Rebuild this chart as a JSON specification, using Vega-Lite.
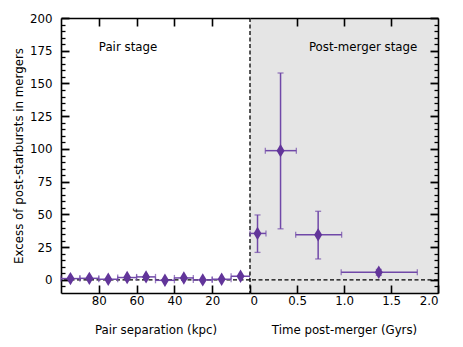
{
  "$schema": "https://vega.github.io/schema/vega-lite/v6.json",
  "padding": {"left": 13, "top": 13, "right": 10, "bottom": 5},
  "background": "white",
  "spacing": 0,
  "bounds": "flush",
  "config": {
    "view": {"stroke": null},
    "concat": {"spacing": 0},
    "font": "DejaVu Sans",
    "axis": {
      "grid": false,
      "domainColor": "black",
      "domainWidth": 1.6,
      "tickColor": "black",
      "tickWidth": 1.6,
      "labelFont": "DejaVu Sans",
      "labelFontSize": 11.8,
      "labelColor": "black",
      "titleFont": "DejaVu Sans",
      "titleFontSize": 11.8,
      "titleFontWeight": "normal",
      "titleColor": "black"
    }
  },
  "datasets": {
    "pairs": [
      {"sep": 95, "sepLo": 90, "sepHi": 100, "excess": 1.0},
      {"sep": 85, "sepLo": 80, "sepHi": 90, "excess": 1.2},
      {"sep": 75, "sepLo": 70, "sepHi": 80, "excess": 0.5},
      {"sep": 65, "sepLo": 60, "sepHi": 70, "excess": 1.8},
      {"sep": 55, "sepLo": 50, "sepHi": 60, "excess": 2.3},
      {"sep": 45, "sepLo": 40, "sepHi": 50, "excess": -0.3},
      {"sep": 35, "sepLo": 30, "sepHi": 40, "excess": 1.5},
      {"sep": 25, "sepLo": 20, "sepHi": 30, "excess": 0.0},
      {"sep": 15, "sepLo": 10, "sepHi": 20, "excess": 0.5},
      {"sep": 5, "sepLo": 0, "sepHi": 10, "excess": 2.8}
    ],
    "post": [
      {"t": 0.08, "tLo": 0.0, "tHi": 0.17, "excess": 35.5, "eLo": 21, "eHi": 49.6},
      {"t": 0.325, "tLo": 0.163, "tHi": 0.493, "excess": 98.7, "eLo": 39, "eHi": 158},
      {"t": 0.725, "tLo": 0.486, "tHi": 0.975, "excess": 34.4, "eLo": 16, "eHi": 52.4},
      {"t": 1.37, "tLo": 0.97, "tHi": 1.78, "excess": 5.8, "eLo": 3.5, "eHi": 8}
    ]
  },
  "hconcat": [
    {
      "width": 189,
      "height": 275,
      "resolve": {"axis": {"x": "independent", "y": "independent"}},
      "layer": [
        {
          "data": {"values": [{}]},
          "mark": {"type": "rule", "strokeDash": [4, 2.5], "color": "black", "strokeWidth": 1.3},
          "encoding": {
            "y": {
              "datum": 0, "type": "quantitative",
              "scale": {"domain": [-10, 200], "nice": false, "zero": false},
              "axis": {
                "orient": "left",
                "values": [0, 25, 50, 75, 100, 125, 150, 175, 200],
                "tickSize": -8,
                "tickWidth": 1.8,
                "labelPadding": 17,
                "title": "Excess of post-starbursts in mergers",
                "titleColor": "black",
                "titlePadding": 5
              }
            }
          }
        },
        {
          "data": {"name": "pairs"},
          "mark": {"type": "errorbar", "color": "#7048a8", "thickness": 1.5, "ticks": {"size": 6, "thickness": 1.3}},
          "encoding": {
            "x": {
              "field": "sepLo", "type": "quantitative",
              "scale": {"domain": [0, 100], "reverse": true, "nice": false, "zero": false},
              "axis": {
                "orient": "bottom",
                "values": [20, 40, 60, 80],
                "tickSize": -8,
                "labelPadding": 10,
                "title": "Pair separation (kpc)",
                "titleColor": "black",
                "titlePadding": 18
              }
            },
            "x2": {"field": "sepHi"},
            "y": {"field": "excess", "type": "quantitative", "axis": null}
          }
        },
        {
          "data": {"name": "pairs"},
          "mark": {"type": "point", "shape": "M0,-1L0.6,0L0,1L-0.6,0Z", "filled": true, "size": 180, "opacity": 1, "color": "#62359a"},
          "encoding": {
            "x": {"field": "sep", "type": "quantitative", "axis": null},
            "y": {
              "field": "excess", "type": "quantitative",
              "axis": {
                "orient": "left",
                "values": [-5, 5, 10, 15, 20, 30, 35, 40, 45, 55, 60, 65, 70, 80, 85, 90, 95, 105, 110, 115, 120, 130, 135, 140, 145, 155, 160, 165, 170, 180, 185, 190, 195],
                "tickSize": -4,
                "tickWidth": 1.3,
                "labels": false,
                "domain": false,
                "title": null
              }
            }
          }
        },
        {
          "data": {"values": [{}]},
          "mark": {"type": "text", "align": "left", "baseline": "middle", "fontSize": 11.8, "font": "DejaVu Sans", "color": "black"},
          "encoding": {
            "x": {
              "datum": 80, "type": "quantitative",
              "axis": {"orient": "top", "values": [20, 40, 60, 80], "tickSize": -8, "labels": false, "title": null}
            },
            "y": {"datum": 178, "type": "quantitative", "axis": null},
            "text": {"value": "Pair stage"}
          }
        }
      ]
    },
    {
      "width": 188,
      "height": 275,
      "view": {"fill": "#e5e5e5", "stroke": null},
      "resolve": {"axis": {"x": "independent", "y": "independent"}},
      "layer": [
        {
          "data": {"values": [{}]},
          "mark": {"type": "rule", "strokeDash": [4, 2.5], "color": "black", "strokeWidth": 1.3},
          "encoding": {
            "y": {
              "datum": 0, "type": "quantitative",
              "scale": {"domain": [-10, 200], "nice": false, "zero": false},
              "axis": {
                "orient": "right",
                "values": [0, 25, 50, 75, 100, 125, 150, 175, 200],
                "tickSize": -8,
                "tickWidth": 1.8,
                "labels": false,
                "title": null
              }
            }
          }
        },
        {
          "data": {"values": [{}]},
          "mark": {"type": "rule", "strokeDash": [4, 2.5], "color": "black", "strokeWidth": 1.3},
          "encoding": {
            "x": {"datum": 0, "type": "quantitative", "axis": null}
          }
        },
        {
          "data": {"name": "post"},
          "mark": {"type": "errorbar", "color": "#7048a8", "thickness": 1.5, "ticks": {"size": 6, "thickness": 1.3}},
          "encoding": {
            "x": {
              "field": "tLo", "type": "quantitative",
              "scale": {"domain": [0, 2], "nice": false, "zero": false},
              "axis": {
                "orient": "bottom",
                "values": [0, 0.5, 1, 1.5, 2],
                "labelExpr": "datum.value === 0 ? '0' : format(datum.value, '.1f')",
                "tickSize": -8,
                "labelPadding": 10,
                "title": "Time post-merger (Gyrs)",
                "titleColor": "black",
                "titlePadding": 18
              }
            },
            "x2": {"field": "tHi"},
            "y": {"field": "excess", "type": "quantitative", "axis": null}
          }
        },
        {
          "data": {"name": "post"},
          "mark": {"type": "errorbar", "color": "#7048a8", "thickness": 1.5, "ticks": {"size": 6, "thickness": 1.3}},
          "encoding": {
            "x": {"field": "t", "type": "quantitative", "axis": null},
            "y": {"field": "eLo", "type": "quantitative", "axis": null},
            "y2": {"field": "eHi"}
          }
        },
        {
          "data": {"name": "post"},
          "mark": {"type": "point", "shape": "M0,-1L0.6,0L0,1L-0.6,0Z", "filled": true, "size": 180, "opacity": 1, "color": "#62359a"},
          "encoding": {
            "x": {"field": "t", "type": "quantitative", "axis": null},
            "y": {
              "field": "excess", "type": "quantitative",
              "axis": {
                "orient": "right",
                "values": [-5, 5, 10, 15, 20, 30, 35, 40, 45, 55, 60, 65, 70, 80, 85, 90, 95, 105, 110, 115, 120, 130, 135, 140, 145, 155, 160, 165, 170, 180, 185, 190, 195],
                "tickSize": -4,
                "tickWidth": 1.3,
                "labels": false,
                "domain": false,
                "title": null
              }
            }
          }
        },
        {
          "data": {"values": [{}]},
          "mark": {"type": "text", "align": "right", "baseline": "middle", "fontSize": 11.8, "font": "DejaVu Sans", "color": "black"},
          "encoding": {
            "x": {
              "datum": 1.78, "type": "quantitative",
              "axis": {"orient": "top", "values": [0.5, 1, 1.5], "tickSize": -8, "labels": false, "title": null}
            },
            "y": {"datum": 178, "type": "quantitative", "axis": null},
            "text": {"value": "Post-merger stage"}
          }
        }
      ]
    }
  ]
}
